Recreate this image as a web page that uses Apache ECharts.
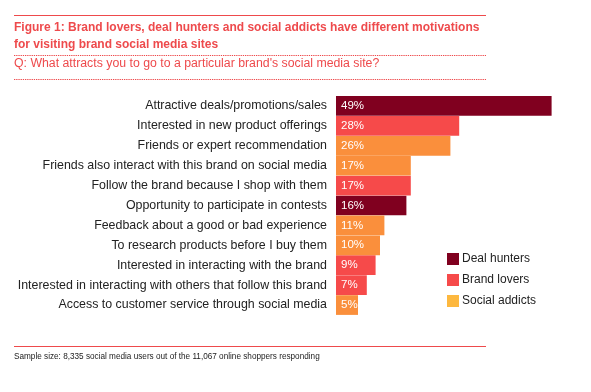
<!DOCTYPE html>
<html>
<head>
<meta charset="utf-8">
<script src="https://cdn.jsdelivr.net/npm/echarts@6/dist/echarts.min.js"></script>
<style>html,body{margin:0;padding:0;background:#fff;}#c{width:591px;height:392px;}</style>
</head>
<body>
<div id="c"></div>
<script>
const categories = [
  'Attractive deals/promotions/sales',
  'Interested in new product offerings',
  'Friends or expert recommendation',
  'Friends also interact with this brand on social media',
  'Follow the brand because I shop with them',
  'Opportunity to participate in contests',
  'Feedback about a good or bad experience',
  'To research products before I buy them',
  'Interested in interacting with the brand',
  'Interested in interacting with others that follow this brand',
  'Access to customer service through social media'
];
const values = [49, 28, 26, 17, 17, 16, 11, 10, 9, 7, 5];
const segments = ['Deal hunters', 'Brand lovers', 'Social addicts', 'Social addicts', 'Brand lovers',
  'Deal hunters', 'Social addicts', 'Social addicts', 'Brand lovers', 'Brand lovers', 'Social addicts'];
const seriesNames = ['Deal hunters', 'Brand lovers', 'Social addicts'];
const barColors = ['#80001f', '#f64a4a', '#fa8f3c'];
const legendColors = ['#80001f', '#f64a4a', '#fdb83f'];

const RED = '#ee4a4c';
const FONT = 'Liberation Sans, Arial, sans-serif';
const chart = echarts.init(document.getElementById('c'), null, {renderer: 'canvas'});

const series = seriesNames.map((name, si) => ({
  name: name,
  type: 'bar',
  stack: 'all',
  barCategoryGap: '1%',
  itemStyle: {color: barColors[si]},
  label: {
    show: true, position: 'insideLeft', distance: 5,
    color: '#fff', fontSize: 11.5, fontFamily: FONT,
    formatter: p => p.value + '%'
  },
  data: values.map((v, i) => segments[i] === name ? v : '-')
}));

const dotted = {stroke: RED, lineWidth: 1, lineDash: [1.3, 0.9]};

chart.setOption({
  animation: false,
  grid: {left: 336, top: 96, width: 220, height: 219, containLabel: false},
  xAxis: {type: 'value', min: 0, max: 50, show: false},
  yAxis: {
    type: 'category', inverse: true, data: categories,
    axisLine: {show: false}, axisTick: {show: false},
    axisLabel: {margin: 9, fontSize: 12.4, color: '#222', fontFamily: FONT}
  },
  legend: {
    orient: 'vertical', left: 447, top: 253, padding: 0,
    itemWidth: 12, itemHeight: 12, itemGap: 9, icon: 'rect',
    textStyle: {fontSize: 12, color: '#222', fontFamily: FONT, padding: [0,0,0,-2]},
    data: seriesNames.map((n, i) => ({name: n, itemStyle: {color: legendColors[i]}}))
  },
  series: series,
  graphic: [
    {type: 'line', shape: {x1: 14, y1: 15.5, x2: 486, y2: 15.5}, style: {stroke: RED, lineWidth: 1}},
    {type: 'text', left: 14, top: 19, style: {
      text: 'Figure 1: Brand lovers, deal hunters and social addicts have different motivations\nfor visiting brand social media sites',
      fill: RED, font: 'bold 12px "Liberation Sans", Arial, sans-serif', lineHeight: 17}},
    {type: 'line', shape: {x1: 14, y1: 55.5, x2: 486, y2: 55.5}, style: dotted},
    {type: 'text', left: 14, top: 56, style: {
      text: "Q: What attracts you to go to a particular brand's social media site?",
      fill: RED, font: '12.3px "Liberation Sans", Arial, sans-serif', lineHeight: 16}},
    {type: 'line', shape: {x1: 14, y1: 79.5, x2: 486, y2: 79.5}, style: dotted},
    {type: 'line', shape: {x1: 14, y1: 346.5, x2: 486, y2: 346.5}, style: {stroke: RED, lineWidth: 1}},
    {type: 'text', left: 14, top: 353, style: {
      text: 'Sample size: 8,335 social media users out of the 11,067 online shoppers responding',
      fill: '#222', font: '8.2px "Liberation Sans", Arial, sans-serif'}}
  ]
});
</script>
</body>
</html>
